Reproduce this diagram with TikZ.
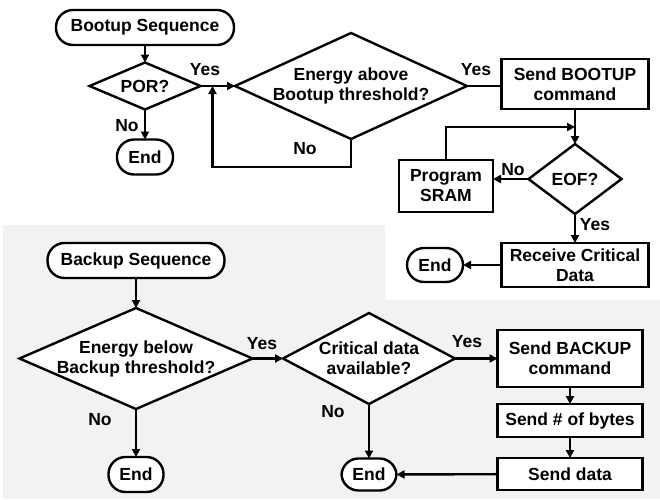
\documentclass[tikz,border=0pt]{standalone}
\usepackage{fontspec}
\setmainfont{Liberation Sans}
\usetikzlibrary{positioning,shapes.geometric,arrows.meta}

\begin{document}
\begin{tikzpicture}
[x=1pt,y=1pt,
 every node/.style={font=\fontsize{17.5}{20}\selectfont\bfseries,inner sep=0pt,outer sep=0pt,align=center},
 term/.style={rectangle,draw,fill=white,rounded corners=17pt,minimum height=35pt},
 box/.style={rectangle,draw,fill=white,minimum width=147pt},
 dec/.style={diamond,draw,fill=white},
 lbl/.style={},
 line width=2.4pt,
 >={Triangle[length=8pt,width=8pt]}]
\useasboundingbox (0,0) rectangle (660,-499);
% backup pane
\fill[gray!10] (3,-225) -- (385,-225) -- (385,-300) -- (660,-300) -- (660,-499) -- (3,-499) -- cycle;

% bootup sequence
\node[term,minimum width=178pt] (boot) at (145,-27.5) {Bootup Sequence};
\node[dec,minimum width=111pt,minimum height=47pt,label=center:POR?] (por) [on grid,below=58.5pt of boot] {};
\node[term,minimum width=56pt] (end1) [on grid,below=71pt of por] {End};
\node[dec,minimum width=232pt,minimum height=106pt,label={center:Energy above\\Bootup threshold?}] (eabove) [on grid,right=206pt of por] {};
\node[box,minimum height=50pt] (sendboot) [on grid,above right=2pt and 224pt of eabove] {Send BOOTUP\\command};
\node[dec,minimum width=93pt,minimum height=70pt,label=center:EOF?] (eof) [on grid,below=95pt of sendboot] {};
\node[box,minimum width=94pt,minimum height=52pt] (prog) [on grid,below left=7pt and 129pt of eof] {Program\\SRAM};
\node[box,minimum height=44pt] (recv) [on grid,below=86pt of eof] {Receive Critical\\Data};
\node[term,minimum width=56pt,minimum height=34pt] (end2) [on grid,left=140pt of recv] {End};

\node[lbl] (yesA) [on grid,above right=16pt and 4.5pt of por.east,anchor=center] {Yes};
\node[lbl] (noA)  [on grid,below left=16pt and 18pt of por.south,anchor=center] {No};
\node[lbl] (noB)  [on grid,below left=10pt and 46pt of eabove.south,anchor=center] {No};
\node[lbl] (yesB) [on grid,above right=16pt and 9pt of eabove.east,anchor=center] {Yes};
\node[lbl] (noC)  [on grid,above left=9pt and 15.5pt of eof.west,anchor=center] {No};
\node[lbl] (yesC) [on grid,below right=11pt and 20pt of eof.south,anchor=center] {Yes};

\coordinate[below=28pt of eabove.south] (lp);
\coordinate[right=12pt of por.east] (ret);
\coordinate[above=17pt of eof.north] (jn);

\draw[->] (boot) -- (por);
\draw[->] (por) -- (end1);
\draw[->] (por) -- (eabove);
\draw (eabove.east) -- (eabove.east -| sendboot.west);
\draw[->] (eabove.south) -- (lp) -| (ret);
\draw[->] (sendboot) -- (eof);
\draw[->] (prog.north) |- (jn);
\draw[->] (eof.west) -- (eof.west -| prog.east);
\draw[->] (eof) -- (recv);
\draw[->] (recv) -- (end2);

% backup sequence
\node[term,minimum width=177pt] (backup) [on grid,below left=233pt and 9pt of boot] {Backup Sequence};
\node[dec,minimum width=233pt,minimum height=101pt,label={center:Energy below\\Backup threshold?}] (ebelow) [on grid,below=98pt of backup] {};
\node[term,minimum width=55pt] (end3) [on grid,below=116pt of ebelow] {End};
\node[dec,minimum width=172pt,minimum height=91pt,label={center:Critical data\\available?}] (crit) [on grid,right=233pt of ebelow] {};
\node[term,minimum width=55pt,minimum height=32pt] (end4) [on grid,below=116pt of crit] {End};
\node[box,minimum width=145pt,minimum height=57pt] (sendbk) [on grid,right=201pt of crit] {Send BACKUP\\command};
\node[box,minimum width=145pt,minimum height=33pt] (nbytes) [on grid,below=62pt of sendbk] {Send \# of bytes};
\node[box,minimum width=145pt,minimum height=32pt] (sdata) [on grid,below=53.5pt of nbytes] {Send data};

\node[lbl] (yesD) [on grid,above right=14.5pt and 9.5pt of ebelow.east,anchor=center] {Yes};
\node[lbl] (noD)  [on grid,below left=11pt and 36pt of ebelow.south,anchor=center] {No};
\node[lbl] (noE)  [on grid,below left=8pt and 36pt of crit.south,anchor=center] {No};
\node[lbl] (yesE) [on grid,above right=16.5pt and 12pt of crit.east,anchor=center] {Yes};

\draw[->] (backup) -- (ebelow);
\draw[->] (ebelow) -- (end3);
\draw[->] (ebelow) -- (crit);
\draw[->] (crit) -- (end4);
\draw[->] (crit) -- (sendbk);
\draw[->] (sendbk) -- (nbytes);
\draw[->] (nbytes) -- (sdata);
\draw[->] (sdata) -- (end4);
\end{tikzpicture}
\end{document}
